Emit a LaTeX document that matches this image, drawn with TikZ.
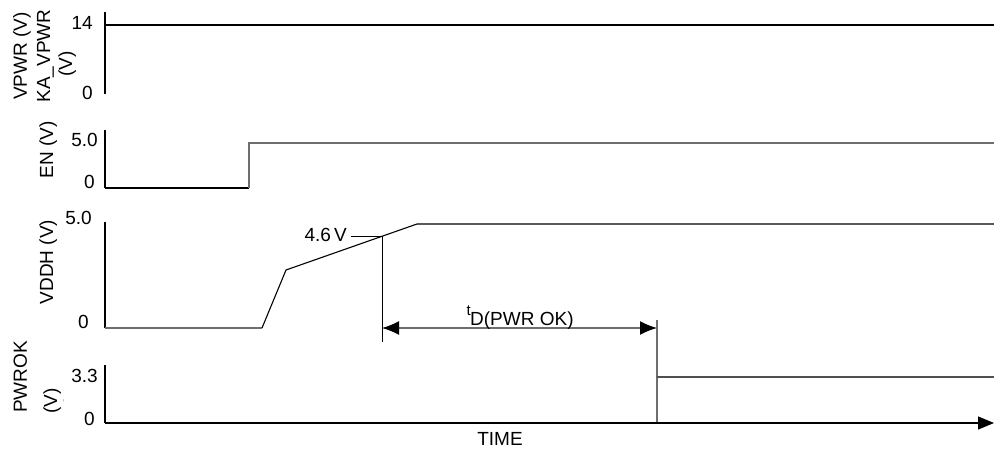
\documentclass[tikz,border=0pt]{standalone}
\usepackage{fontspec}
\setmainfont{Liberation Sans}
\usetikzlibrary{arrows.meta}
\definecolor{sgray}{RGB}{110,110,110}
\definecolor{dgray}{RGB}{80,80,80}
\begin{document}
\begin{tikzpicture}[x=1pt,y=-1pt,
  lbl/.style={font=\fontsize{19}{21}\selectfont, inner sep=0pt},
  vlbl/.style={lbl, rotate=90, anchor=base},
  val/.style={lbl, anchor=base east},
  axis/.style={line width=1.1pt, black},
  sig/.style={line width=1.1pt, black},
  gsig/.style={line width=1.4pt, sgray},
  dsig/.style={line width=1.3pt, dgray},
  thinline/.style={line width=0.9pt, black}
]
\useasboundingbox (0,0) rectangle (994,449);

% ---------- Panel 1: VPWR ----------
\node[vlbl] (l1a) at (27,56) {VPWR (V)};
\node[vlbl] (l1b) at (50,56) {KA\_VPWR};
\node[vlbl] (l1c) at (72,64) {(V)};
\node[val] (v14) at (93,30) {14};
\node[val] (v0a) at (93,100) {0};
\draw[axis] (105,12) -- (105,94);
\draw[sig] (105,25) -- (994,25);

% ---------- Panel 2: EN ----------
\node[vlbl] (l2) at (53,150) {EN (V)};
\node[val] (v50a) at (98,147) {5.0};
\node[val] (v0b) at (95,189) {0};
\draw[axis] (105,130) -- (105,188);
\draw[sig] (105,188) -- (249,188);
\draw[gsig] (249,188) -- (249,143) -- (994,143);

% ---------- Panel 3: VDDH ----------
\node[vlbl] (l3) at (53,262) {VDDH (V)};
\node[val] (v50b) at (92,225) {5.0};
\node[val] (v0c) at (89,329) {0};
\draw[axis] (105,222) -- (105,328);
\draw[gsig] (105,328) -- (262,328);
\coordinate (r0) at (262,328);
\coordinate (r1) at (286,270);
\coordinate (r2) at (417,224);
\draw[sig] (r0) -- (r1) -- (r2) -- (994,224);
\node[lbl, anchor=base east] (v46) at (347,242) {4.6\,V};
\coordinate (p46) at (382,236);
\coordinate (p46b) at (382,342);
\draw[thinline] (v46.east |- p46) ++(4,0) -- (p46) -- (p46b);

% dimension arrow
\coordinate (dl) at (382,328);
\coordinate (dr) at (657,328);
\draw[gsig, {Latex[length=17pt,width=14pt,color=black]}-{Latex[length=17pt,width=14pt,color=black]}] (dl) -- (dr);
\node[lbl, anchor=base west] (td) at (470,325) {D(PWR OK)};
\node[inner sep=0pt, anchor=base east, font=\fontsize{15}{17}\selectfont] (tt) at (td.base west) [yshift=9pt, xshift=1pt] {t};

% ---------- Panel 4: PWROK ----------
\node[vlbl] (l4a) at (27,377) {PWROK};
\node[vlbl] (l4b) at (57,401) {(V)};
\node[inner sep=0pt, rotate=90, anchor=base, text=gray!60, font=\fontsize{10}{12}\selectfont] (l4c) at (66,401) {-};
\node[val] (v33) at (98,382) {3.3};
\node[val] (v0d) at (95,425) {0};
\draw[axis] (105,365) -- (105,423);
\coordinate (s0) at (657,320);
\coordinate (s1) at (657,423);
\draw[gsig] (s0) -- (s1);
\draw[dsig] (657,377) -- (994,377);
\draw[axis, -{Triangle[length=16pt,width=13pt]}] (105,423) -- (994,423);
\node[lbl, anchor=base] (time) at (500,445) {TIME};
\end{tikzpicture}
\end{document}
